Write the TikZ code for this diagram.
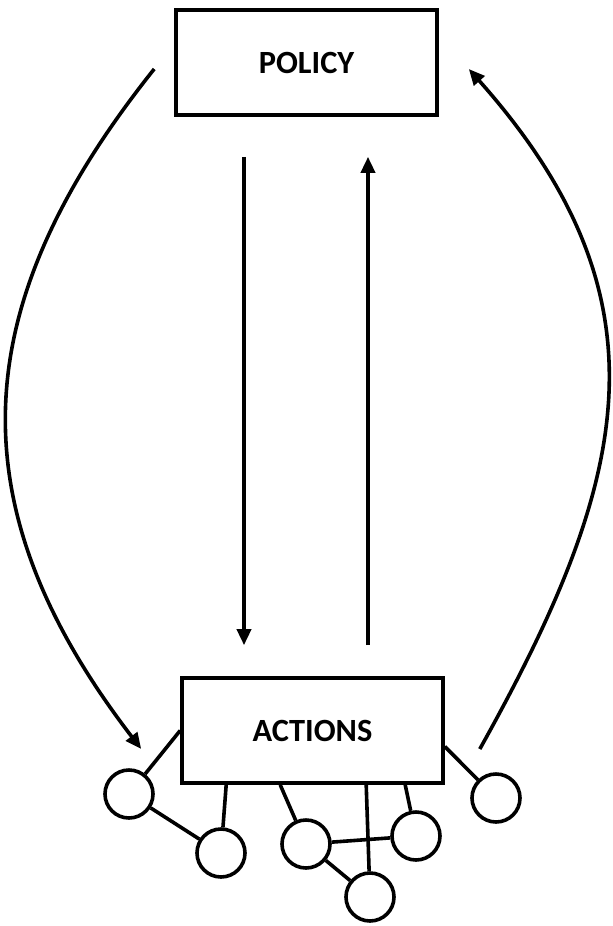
\documentclass[tikz,border=0pt]{standalone}
\usepackage{fontspec}
\setmainfont{Carlito}
\usetikzlibrary{arrows.meta}

\begin{document}
\begin{tikzpicture}[
  x=0.5pt, y=-0.5pt,
  >={Triangle[length=8pt,width=7pt]},
  font=\fontsize{16.2}{18}\selectfont\bfseries,
  box/.style={draw, line width=1.8pt, minimum width=130.5pt, minimum height=52.5pt, inner sep=0pt},
  leaf/.style={draw, circle, line width=1.8pt, minimum size=24pt, inner sep=0pt},
  flow/.style={->, line width=1.8pt},
  link/.style={line width=1.8pt}
]
  \useasboundingbox (0,0) rectangle (613,926);

  \node[box] (policy) at (306.5,62.5) {POLICY};
  \node[box] (actions) at (312.5,730.5) {ACTIONS};

  % action circles
  \node[leaf] (c1) at (129,794) {};
  \node[leaf] (c2) at (221,853) {};
  \node[leaf] (c3) at (306,844) {};
  \node[leaf] (c4) at (370,897) {};
  \node[leaf] (c5) at (416,836) {};
  \node[leaf] (c6) at (496,798) {};

  \draw[flow] ([xshift=-31.25pt,yshift=-20pt]policy.south) -- ([xshift=-34.25pt,yshift=15.5pt]actions.north);
  \draw[flow] ([xshift=27.75pt,yshift=15.5pt]actions.north) -- ([xshift=30.75pt,yshift=-20pt]policy.south);
  \draw[flow] ([xshift=-10pt,yshift=-3.25pt]policy.west) .. controls (-30,300) and (-50,500) .. ([xshift=-19.5pt,yshift=-9.25pt]actions.west);
  \draw[flow] ([xshift=17.5pt,yshift=-9.25pt]actions.east) .. controls (630,480) and (674,300) .. ([xshift=15pt,yshift=-3.25pt]policy.east);

  \draw[link] (actions.west) -- (c1);
  \draw[link] (c1) -- (c2);
  \draw[link] ([xshift=23pt]actions.south west) -- (c2);
  \draw[link] ([xshift=50pt]actions.south west) -- (c3);
  \draw[link] ([xshift=93pt]actions.south west) -- (c4);
  \draw[link] ([xshift=112.5pt]actions.south west) -- (c5);
  \draw[link] ([yshift=-8pt]actions.east) -- (c6);
  \draw[link] (c3) -- (c5);
  \draw[link] (c3) -- (c4);
\end{tikzpicture}
\end{document}
